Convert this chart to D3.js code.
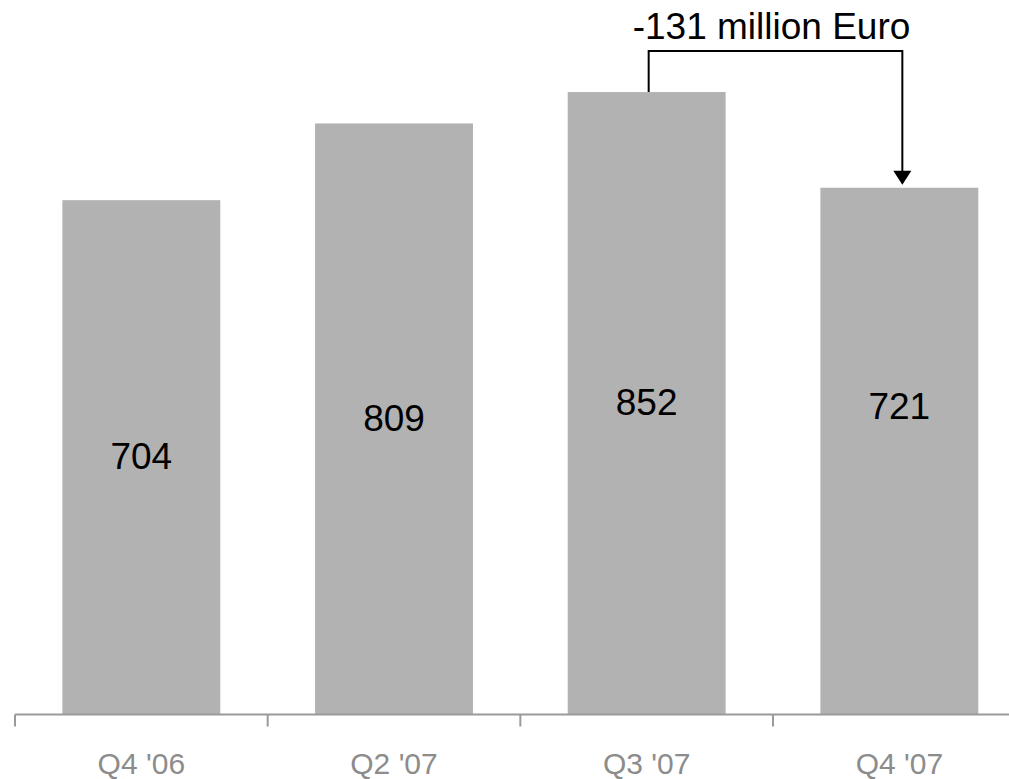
<!DOCTYPE html>
<html>
<head>
<meta charset="utf-8">
<script src="https://cdn.jsdelivr.net/npm/d3@7"></script>
<style>
  html, body { margin: 0; padding: 0; background: #fff; }
  svg { display: block; }
  text { font-family: "Liberation Sans", Arial, sans-serif; }
</style>
</head>
<body>
<script>
// Quarterly figures (million Euro)
const quarters = ["Q4 '06", "Q2 '07", "Q3 '07", "Q4 '07"];
const values = [704, 809, 852, 721];

const W = 1009, H = 779;
const svg = d3.select("body").append("svg").attr("width", W).attr("height", H);

const x = d3.scaleBand()
  .domain(quarters)
  .range([15, 15 + 4 * 252.67])
  .paddingInner(0.375)
  .paddingOuter(0.1875);

const y = d3.scaleLinear().domain([0, 978]).range([714.5, 0]);

const data = quarters.map((q, i) => ({ q, v: values[i] }));

// bars
svg.selectAll("rect.bar").data(data).join("rect")
  .attr("class", "bar")
  .attr("x", d => x(d.q))
  .attr("width", x.bandwidth())
  .attr("y", d => y(d.v))
  .attr("height", d => y(0) - y(d.v))
  .attr("fill", "#b2b2b2");

// baseline with ticks at category boundaries
const step = x.step();
const r0 = x.range()[0];
svg.append("line")
  .attr("x1", r0).attr("x2", W)
  .attr("y1", y(0)).attr("y2", y(0))
  .attr("stroke", "#9a9a9a").attr("stroke-width", 2);
svg.selectAll("line.tick").data(quarters).join("line")
  .attr("class", "tick")
  .attr("x1", (d, i) => r0 + i * step).attr("x2", (d, i) => r0 + i * step)
  .attr("y1", y(0)).attr("y2", y(0) + 12)
  .attr("stroke", "#9a9a9a").attr("stroke-width", 2);

// category labels
const xAxis = d3.axisBottom(x).tickSize(0).tickPadding(0);
const gx = svg.append("g").attr("transform", "translate(0,774)").call(xAxis);
gx.select(".domain").remove();
gx.selectAll("text")
  .attr("dy", null).attr("y", 0)
  .attr("fill", "#8c8c8c")
  .style("font-size", "30px")
  .style("font-family", "'Liberation Sans', Arial, sans-serif");

// value labels inside the bars (the last one sits a bit higher)
svg.selectAll("text.val").data(data).join("text")
  .attr("class", "val")
  .attr("x", d => x(d.q) + x.bandwidth() / 2)
  .attr("y", (d, i) => (i === 3 ? y(d.v * 0.584) : y(d.v / 2)) + 12)
  .attr("text-anchor", "middle")
  .attr("font-size", "37px")
  .attr("fill", "#000")
  .text(d => d.v);

// change bracket from Q3 '07 to Q4 '07
const from = data[2], to = data[3];
const xa = x(from.q) + x.bandwidth() / 2 + 2;
const xb = x(to.q) + x.bandwidth() / 2 + 3;
const yTop = 51;
const tipY = y(to.v) - 3;
svg.append("path")
  .attr("d", `M${xa},${y(from.v)}V${yTop}H${xb}V${tipY - 13}`)
  .attr("fill", "none").attr("stroke", "#000").attr("stroke-width", 2);
svg.append("path")
  .attr("d", `M${xb - 9},${tipY - 14}L${xb + 9},${tipY - 14}L${xb},${tipY}Z`)
  .attr("fill", "#000");

svg.append("text")
  .attr("x", (xa + xb) / 2 - 4)
  .attr("y", 39)
  .attr("text-anchor", "middle")
  .attr("font-size", "37px")
  .attr("fill", "#000")
  .text(`${to.v - from.v} million Euro`);
</script>
</body>
</html>
